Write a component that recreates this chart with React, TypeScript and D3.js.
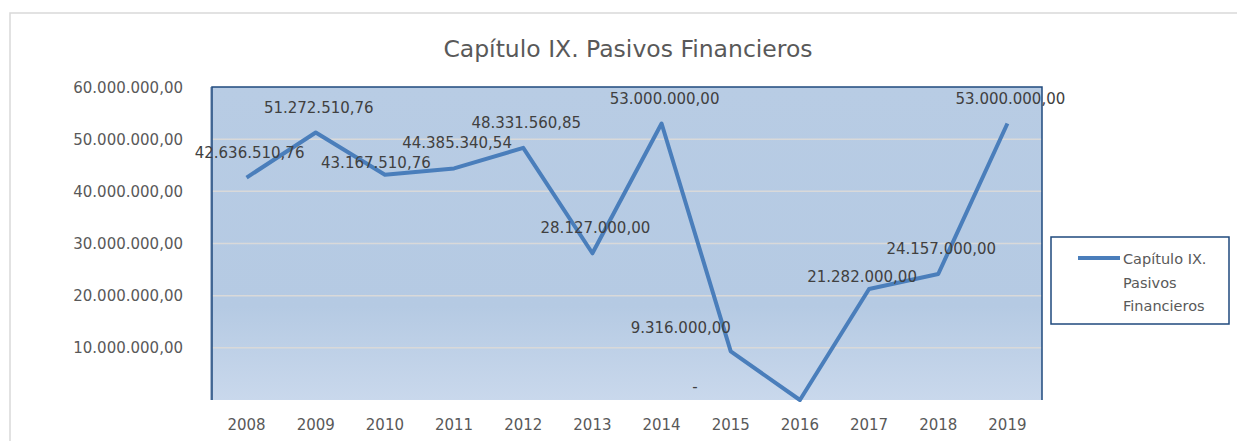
import React from "react";
import * as d3 from "d3";

const years = ["2008", "2009", "2010", "2011", "2012", "2013", "2014", "2015", "2016", "2017", "2018", "2019"];
const values = [42636510.76, 51272510.76, 43167510.76, 44385340.54, 48331560.85, 28127000, 53000000, 9316000, 0, 21282000, 24157000, 53000000];
const yTicks = [10000000, 20000000, 30000000, 40000000, 50000000, 60000000];
// nudges for the data labels, as Excel placed them (dx, dy from default spot)
const labelNudge: [number, number][] = [
  [0, 0], [0, 0], [-12, 13], [0, 0], [0, 0], [0, 0],
  [0, 0], [-53, 2], [-108, 12], [-10, 13], [0, 0], [0, 0],
];

const W = 1237;
const H = 441;
const margin = { left: 212, right: 195, top: 87, bottom: 41 };
const font = "'DejaVu Sans', sans-serif";

const fmt = (v: number) => {
  if (v === 0) return "-";
  const [i, d] = v.toFixed(2).split(".");
  return i.replace(/\B(?=(\d{3})+(?!\d))/g, ".") + "," + d;
};

const App = () => {
  const x = d3
    .scaleBand()
    .domain(years)
    .range([margin.left, W - margin.right]);
  const y = d3
    .scaleLinear()
    .domain([0, 60000000])
    .range([H - margin.bottom, margin.top]);
  const cx = (yr: string) => (x(yr) as number) + x.bandwidth() / 2;

  const line = d3
    .line<number>()
    .x((d, i) => cx(years[i]))
    .y(d => y(d));

  const x0 = margin.left;
  const x1 = W - margin.right;
  const yTop = margin.top;
  const yBot = H - margin.bottom;

  return (
    <svg width={W} height={H} style={{ position: "absolute", left: 0, top: 0, background: "#fff" }}>
      <defs>
        <linearGradient id="plotbg" x1="0" y1="0" x2="0" y2="1">
          <stop offset="0" stopColor="#b8cce4" />
          <stop offset="0.7" stopColor="#b5cae3" />
          <stop offset="1" stopColor="#c9d8ec" />
        </linearGradient>
      </defs>
      {/* chart area border */}
      <path d={`M10,${H} V13 H${W}`} fill="none" stroke="#d9d9d9" strokeWidth={1.5} />

      <text x={628} y={57} textAnchor="middle" fontFamily={font} fontSize={23.5} fill="#595959">
        Capítulo IX. Pasivos Financieros
      </text>

      {/* plot area */}
      <rect x={x0} y={yTop} width={x1 - x0} height={yBot - yTop} fill="url(#plotbg)" />
      {yTicks.slice(0, -1).map(t => (
        <line key={t} x1={x0} x2={x1} y1={y(t)} y2={y(t)} stroke="#d9d9d9" strokeWidth={1.5} />
      ))}
      <line x1={x0 - 1} x2={x0 - 1} y1={yTop} y2={yBot} stroke="#8ea4c2" strokeWidth={1.5} />
      <path d={`M${x0},${yBot} V${yTop} H${x1} V${yBot}`} fill="none" stroke="#1f497d" strokeWidth={1.5} />

      {/* y axis labels */}
      {yTicks.map(t => (
        <text key={t} x={183} y={y(t) + 5.5} textAnchor="end" fontFamily={font} fontSize={15} fill="#595959">
          {fmt(t)}
        </text>
      ))}

      {/* x axis labels */}
      {years.map(yr => (
        <text key={yr} x={cx(yr)} y={430} textAnchor="middle" fontFamily={font} fontSize={15} fill="#595959">
          {yr}
        </text>
      ))}

      <path d={line(values) || ""} fill="none" stroke="#4a7ebb" strokeWidth={4} strokeLinejoin="round" />

      {/* data labels */}
      {values.map((v, i) => (
        <text
          key={i}
          x={cx(years[i]) + 3 + labelNudge[i][0]}
          y={y(v) - 20 + labelNudge[i][1]}
          textAnchor="middle"
          fontFamily={font}
          fontSize={15}
          fill="#404040"
        >
          {fmt(v)}
        </text>
      ))}

      {/* legend */}
      <rect x={1051} y={237} width={178} height={87} fill="#fff" stroke="#1f497d" strokeWidth={1.5} />
      <line x1={1078} x2={1120} y1={258} y2={258} stroke="#4a7ebb" strokeWidth={4} />
      <text fontFamily={font} fontSize={14.5} fill="#595959">
        <tspan x={1123} y={264}>Capítulo IX.</tspan>
        <tspan x={1123} y={288}>Pasivos</tspan>
        <tspan x={1123} y={311}>Financieros</tspan>
      </text>
    </svg>
  );
};

export default App;
